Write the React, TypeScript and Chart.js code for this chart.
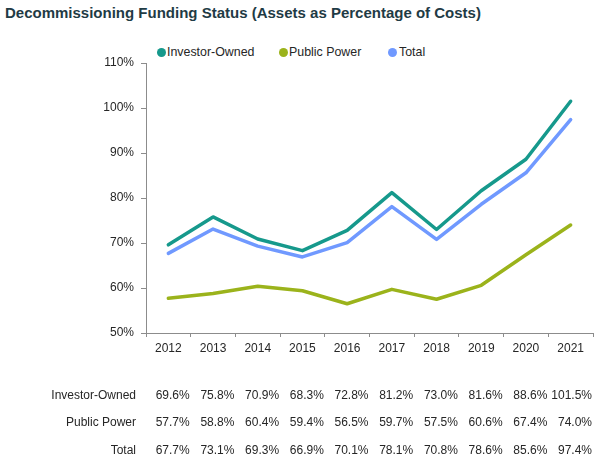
import React, { useEffect, useRef } from "react";
import { Chart, registerables } from "chart.js";

Chart.register(...registerables);

const years = ["2012", "2013", "2014", "2015", "2016", "2017", "2018", "2019", "2020", "2021"];
const investorOwned = [69.6, 75.8, 70.9, 68.3, 72.8, 81.2, 73.0, 81.6, 88.6, 101.5];
const publicPower = [57.7, 58.8, 60.4, 59.4, 56.5, 59.7, 57.5, 60.6, 67.4, 74.0];
const total = [67.7, 73.1, 69.3, 66.9, 70.1, 78.1, 70.8, 78.6, 85.6, 97.4];
const yTicks = [50, 60, 70, 80, 90, 100, 110];

const TITLE = "Decommissioning Funding Status (Assets as Percentage of Costs)";
const C_IO = "#16998c";
const C_PP = "#9bb31b";
const C_TOT = "#7099ff";
const FONT = "'Liberation Sans', Arial, sans-serif";
const TEXT = "#262626";

const PLOT_LEFT = 146;
const PLOT_RIGHT = 593;

const series = [
  { name: "Investor-Owned", data: investorOwned, color: C_IO },
  { name: "Public Power", data: publicPower, color: C_PP },
  { name: "Total", data: total, color: C_TOT },
];

export default function App() {
  const ref = useRef<HTMLCanvasElement | null>(null);

  useEffect(() => {
    if (!ref.current) return;
    const chart = new Chart(ref.current, {
      type: "line",
      data: {
        labels: years,
        datasets: series.map((s) => ({
          label: s.name,
          data: s.data,
          borderColor: s.color,
          backgroundColor: s.color,
          borderWidth: 3.5,
          pointRadius: 0,
          tension: 0,
          borderCapStyle: "round" as const,
          borderJoinStyle: "round" as const,
        })),
      },
      options: {
        animation: false,
        responsive: false,
        maintainAspectRatio: false,
        layout: { padding: { left: 0, right: 600 - PLOT_RIGHT, top: 63, bottom: 99 } },
        plugins: { legend: { display: false }, title: { display: false }, tooltip: { enabled: false } },
        scales: {
          x: {
            type: "category",
            offset: true,
            grid: { offset: true, drawOnChartArea: false, drawTicks: true, tickLength: 4, color: "#8c8c8c" },
            border: { display: true, color: "#8c8c8c" },
            ticks: { color: TEXT, font: { family: FONT, size: 12 }, padding: 4, maxRotation: 0, autoSkip: false },
            afterFit: (s: any) => { s.height = 30; },
          },
          y: {
            min: 50,
            max: 110,
            grid: { drawOnChartArea: false, drawTicks: true, tickLength: 5, color: "#8c8c8c" },
            border: { display: true, color: "#8c8c8c" },
            afterBuildTicks: (s: any) => { s.ticks = yTicks.map((v) => ({ value: v })); },
            ticks: {
              color: TEXT,
              font: { family: FONT, size: 12 },
              padding: 7,
              callback: (v: any) => `${v}%`,
            },
            afterFit: (s: any) => { s.width = PLOT_LEFT; },
          },
        },
      },
    });
    return () => chart.destroy();
  }, []);

  const colW = (PLOT_RIGHT - PLOT_LEFT) / years.length;
  const rowY = [395, 422, 450];
  const legendDotX = [161, 283, 392];
  const legendTextX = [167, 289, 399];

  return (
    <div style={{ position: "absolute", left: 0, top: 0, width: 600, height: 462, background: "#fff", fontFamily: FONT, overflow: "hidden" }}>
      <div style={{ position: "absolute", left: 5, top: 4, fontSize: 15, fontWeight: "bold", color: "#1f3b45", whiteSpace: "nowrap" }}>
        {TITLE}
      </div>
      {series.map((s, i) => (
        <React.Fragment key={s.name}>
          <span style={{ position: "absolute", left: legendDotX[i] - 4.5, top: 52 - 4.5, width: 9, height: 9, borderRadius: "50%", background: s.color }} />
          <div style={{ position: "absolute", left: legendTextX[i], top: 52 - 8, fontSize: 12.4, lineHeight: "16px", color: TEXT, whiteSpace: "nowrap" }}>
            {s.name}
          </div>
        </React.Fragment>
      ))}
      <canvas ref={ref} width={600} height={462} style={{ position: "absolute", left: 0, top: 0, width: 600, height: 462 }} />
      {series.map((s, r) => (
        <React.Fragment key={s.name}>
          <div style={{ position: "absolute", right: 600 - 136, top: rowY[r] - 8, fontSize: 12, lineHeight: "16px", color: TEXT, whiteSpace: "nowrap", textAlign: "right" }}>
            {s.name}
          </div>
          {s.data.map((v, i) => (
            <div key={i} style={{ position: "absolute", right: 600 - (PLOT_LEFT + (i + 1) * colW - 1), top: rowY[r] - 8, fontSize: 12, lineHeight: "16px", color: TEXT, whiteSpace: "nowrap", textAlign: "right" }}>
              {v.toFixed(1)}%
            </div>
          ))}
        </React.Fragment>
      ))}
    </div>
  );
}
